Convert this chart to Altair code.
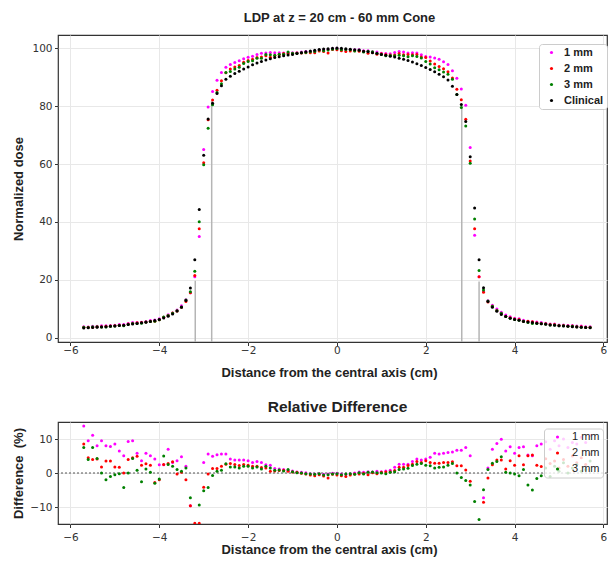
import altair as alt
import pandas as pd

FONT = "Liberation Sans"
TICKFONT = "DejaVu Sans"

# ---------------- data ----------------
x_cm = [-5.7, -5.6, -5.5, -5.4, -5.3, -5.2, -5.1, -5.0, -4.9, -4.8,
        -4.7, -4.6, -4.5, -4.4, -4.3, -4.2, -4.1, -4.0, -3.9, -3.8,
        -3.7, -3.6, -3.5, -3.4, -3.3, -3.2, -3.1, -3.0, -2.9, -2.8,
        -2.7, -2.6, -2.5, -2.4, -2.3, -2.2, -2.1, -2.0, -1.9, -1.8,
        -1.7, -1.6, -1.5, -1.4, -1.3, -1.2, -1.1, -1.0, -0.9, -0.8,
        -0.7, -0.6, -0.5, -0.4, -0.3, -0.2, -0.1,
        0.0,
        0.1, 0.2, 0.3, 0.4, 0.5, 0.6, 0.7, 0.8, 0.9, 1.0,
        1.1, 1.2, 1.3, 1.4, 1.5, 1.6, 1.7, 1.8, 1.9, 2.0,
        2.1, 2.2, 2.3, 2.4, 2.5, 2.6, 2.7, 2.8, 2.9, 3.0,
        3.1, 3.2, 3.3, 3.4, 3.5, 3.6, 3.7, 3.8, 3.9, 4.0,
        4.1, 4.2, 4.3, 4.4, 4.5, 4.6, 4.7, 4.8, 4.9, 5.0,
        5.1, 5.2, 5.3, 5.4, 5.5, 5.6, 5.7]

dose_clinical = [3.4, 3.5, 3.6, 3.7, 3.8, 3.9, 4.0, 4.1, 4.3, 4.4,
                 4.6, 4.8, 5.0, 5.2, 5.4, 5.7, 6.0, 6.4, 6.9, 7.5,
                 8.3, 9.3, 10.6, 12.9, 17.2, 27.0, 44.3, 63.0, 75.5, 81.0,
                 84.3, 87.0, 89.2, 90.3, 91.2, 92.0, 92.8, 93.5, 94.2, 94.8,
                 95.4, 95.9, 96.3, 96.7, 97.0, 97.3, 97.6, 97.8, 98.1, 98.4,
                 98.7, 99.0, 99.2, 99.5, 99.7, 99.8, 99.9,
                 100.0,
                 99.9, 99.8, 99.6, 99.4, 99.2, 98.9, 98.7, 98.4, 98.1, 97.8,
                 97.5, 97.2, 96.9, 96.5, 96.1, 95.7, 95.2, 94.6, 94.0, 93.3,
                 92.6, 91.8, 91.0, 90.1, 89.0, 86.8, 84.0, 80.5, 74.7, 62.5,
                 44.8, 27.0, 17.3, 12.6, 10.6, 9.2, 8.1, 7.4, 6.8, 6.4,
                 6.1, 5.7, 5.5, 5.3, 5.1, 4.9, 4.7, 4.5, 4.4, 4.2,
                 4.1, 4.0, 3.9, 3.8, 3.7, 3.6, 3.5]

dose_1mm = [3.9, 3.8, 4.0, 4.0, 4.2, 4.2, 4.3, 4.4, 4.6, 4.6,
            5.0, 5.3, 5.3, 5.4, 5.7, 6.0, 6.2, 6.6, 7.1, 8.0,
            8.6, 9.6, 11.1, 13.2, 15.6, 21.1, 35.0, 65.0, 79.7, 85.0,
            88.9, 91.6, 93.4, 94.3, 95.0, 95.6, 96.3, 96.8, 97.2, 97.8,
            98.2, 98.3, 98.5, 98.4, 98.4, 98.3, 98.4, 98.4, 98.4, 98.6,
            98.8, 98.8, 98.9, 99.3, 99.3, 99.5, 99.8,
            99.9,
            99.6, 99.4, 99.4, 99.4, 99.5, 99.1, 99.1, 98.7, 98.6, 98.2,
            98.1, 98.0, 98.5, 98.8, 98.6, 98.3, 98.4, 98.3, 97.7, 97.1,
            96.9, 96.6, 96.1, 95.3, 94.3, 92.2, 89.6, 85.9, 80.3, 65.7,
            35.4, 21.1, 16.0, 12.8, 11.3, 10.0, 8.9, 7.9, 7.3, 6.8,
            6.6, 6.1, 5.8, 5.6, 5.5, 5.3, 5.1, 4.8, 4.8, 4.5,
            4.5, 4.3, 4.3, 4.1, 4.1, 3.9, 3.9]

dose_2mm = [3.7, 3.7, 3.7, 3.9, 3.9, 4.0, 4.1, 4.2, 4.4, 4.4,
            4.8, 5.0, 5.2, 5.3, 5.5, 5.8, 5.8, 6.3, 7.1, 7.7,
            8.6, 9.3, 10.6, 12.6, 15.6, 21.5, 37.7, 60.4, 75.3, 82.1,
            85.4, 88.7, 91.5, 92.8, 93.5, 94.0, 95.1, 95.7, 96.1, 96.7,
            96.9, 97.3, 96.8, 97.3, 97.7, 98.1, 98.1, 98.1, 98.3, 98.3,
            98.4, 98.4, 98.4, 99.0, 98.8, 98.3, 99.5,
            99.4,
            99.1, 98.8, 99.0, 99.1, 98.9, 98.8, 98.2, 98.5, 97.9, 98.0,
            97.8, 97.6, 97.6, 98.1, 97.7, 97.8, 97.7, 97.8, 96.9, 96.7,
            95.5, 94.5, 93.6, 92.9, 91.8, 89.7, 85.8, 82.2, 75.4, 61.0,
            37.7, 21.1, 15.8, 12.4, 10.9, 9.5, 8.4, 7.5, 7.0, 6.5,
            6.4, 5.8, 5.8, 5.6, 5.2, 5.0, 4.9, 4.6, 4.6, 4.3,
            4.3, 4.1, 4.1, 3.9, 3.9, 3.7, 3.7]

dose_3mm = [3.7, 3.6, 3.9, 3.9, 3.8, 3.8, 4.0, 4.1, 4.3, 4.2,
            4.6, 5.0, 5.0, 5.1, 5.5, 5.7, 5.8, 6.3, 7.2, 7.7,
            8.5, 9.4, 10.7, 13.1, 15.9, 23.0, 40.1, 59.7, 72.3, 80.4,
            84.7, 87.7, 91.6, 91.9, 92.8, 93.4, 94.7, 95.4, 95.6, 96.5,
            96.5, 97.8, 97.7, 97.5, 97.9, 97.9, 98.6, 98.2, 98.2, 98.4,
            98.5, 98.7, 98.8, 99.3, 99.1, 99.3, 99.6,
            99.8,
            99.4, 99.5, 99.4, 99.0, 99.3, 98.6, 98.9, 98.7, 98.2, 97.8,
            97.3, 97.4, 97.3, 97.5, 97.3, 97.0, 97.3, 97.1, 96.6, 95.4,
            94.5, 93.2, 92.5, 91.7, 91.0, 89.2, 84.0, 79.5, 73.1, 60.3,
            41.0, 23.3, 16.5, 12.7, 10.9, 9.5, 8.5, 7.4, 6.8, 6.4,
            6.1, 5.8, 5.3, 5.0, 5.0, 4.9, 4.8, 4.5, 4.5, 4.2,
            4.2, 4.0, 4.0, 3.9, 3.7, 3.6, 3.6]

diff_1mm = [13.8, 9.5, 11.1, 8.0, 9.5, 8.0, 7.8, 8.5, 6.5, 5.1,
            9.3, 9.5, 5.8, 3.6, 5.8, 5.1, 4.1, 2.4, 2.4, 7.0,
            3.1, 3.6, 4.8, 2.0, -9.6, -22.0, -21.0, 3.1, 5.6, 4.9,
            5.4, 5.6, 5.6, 4.1, 3.8, 3.8, 3.8, 3.6, 3.1, 3.4,
            3.1, 2.4, 2.3, 1.3, 1.2, 1.0, 0.8, 0.6, 0.3, 0.2,
            0.1, -0.2, -0.3, -0.2, -0.4, -0.3, -0.1,
            -0.1,
            -0.3, -0.4, -0.2, 0.0, 0.3, 0.2, 0.4, 0.3, 0.5, 0.4,
            0.6, 0.8, 1.7, 2.6, 2.6, 2.6, 3.4, 4.1, 3.8, 4.1,
            4.6, 5.8, 5.6, 5.8, 6.0, 6.2, 6.7, 6.7, 7.5, 5.1,
            -21.0, -22.0, -7.3, 1.5, 7.0, 8.7, 9.9, 6.5, 7.7, 5.8,
            7.5, 7.7, 5.3, 5.1, 8.0, 8.5, 9.2, 7.0, 9.5, 8.0,
            10.0, 7.5, 9.0, 8.5, 10.5, 9.0, 11.0]

diff_2mm = [8.5, 4.5, 4.0, 4.1, 1.8, 3.5, 3.5, 1.8, 1.7, 0.0,
            4.0, 4.5, 4.9, 2.3, 2.7, 2.3, -2.8, -2.0, 2.5, 2.8,
            3.3, -0.3, 0.2, -2.0, -9.6, -14.8, -14.8, -4.2, -0.3, 1.3,
            1.3, 2.0, 2.6, 2.8, 2.5, 2.2, 2.5, 2.3, 2.0, 2.0,
            1.6, 1.5, 0.5, 0.6, 0.7, 0.8, 0.5, 0.3, 0.2, -0.1,
            -0.3, -0.6, -0.8, -0.5, -0.9, -1.5, -0.4,
            -0.6,
            -0.8, -1.0, -0.6, -0.3, -0.3, -0.1, -0.5, 0.1, -0.2, 0.2,
            0.3, 0.4, 0.7, 1.7, 1.7, 2.2, 2.6, 3.4, 3.1, 3.6,
            3.1, 2.9, 2.9, 3.1, 3.1, 3.3, 2.1, 2.1, 0.9, -2.4,
            -15.8, -22.0, -8.6, -1.5, 2.4, 3.8, 3.8, 1.2, 3.6, 2.3,
            5.1, 2.4, 5.1, 5.3, 2.3, 1.9, 4.2, 2.8, 3.5, 1.5,
            4.0, 2.0, 5.0, 3.0, 4.5, 2.5, 5.5]

diff_3mm = [7.5, 4.0, 7.5, 4.3, 0.0, -2.0, -1.0, -0.5, -0.2, -4.3,
            0.0, 4.3, 0.8, -2.6, 1.2, 0.2, -3.0, -1.8, 5.0, 2.5,
            2.0, 1.0, 0.5, 1.5, -7.3, -16.0, -9.4, -5.2, -4.3, -0.7,
            0.5, 0.8, 2.7, 1.8, 1.8, 1.5, 2.0, 2.0, 1.5, 1.8,
            1.2, 2.0, 1.5, 0.8, 0.9, 0.6, 1.0, 0.4, 0.1, 0.0,
            -0.2, -0.3, -0.4, -0.2, -0.6, -0.5, -0.3,
            -0.2,
            -0.5, -0.3, -0.2, -0.4, 0.1, -0.3, 0.2, 0.3, 0.1, 0.0,
            -0.2, 0.2, 0.4, 1.0, 1.2, 1.4, 2.2, 2.6, 2.8, 2.3,
            2.1, 1.5, 1.7, 1.8, 2.3, 2.8, 0.0, -1.3, -2.2, -3.5,
            -8.4, -13.7, -4.9, 1.0, 2.9, 3.4, 4.8, 0.2, 0.0, -0.3,
            -0.8, 1.0, -3.5, -5.0, -1.6, -0.8, 1.5, -1.0, 2.0, 0.5,
            3.0, 0.0, 1.5, 2.5, 0.5, 1.0, 3.5]

series_names = ["1 mm", "2 mm", "3 mm", "Clinical"]
series_colors = ["#ff00ff", "#ff0000", "#008000", "#000000"]

edge_x = [-3.19, -2.82, 2.81, 3.2]
edge_top = [19.7, 81.7, 80.3, 19.5]

x_ticks = [-6, -4, -2, 0, 2, 4, 6]
dose_ticks = [0, 20, 40, 60, 80, 100]
diff_ticks = [-10, 0, 10]

# ---------------- tables ----------------
rows = []
for name, vals in zip(series_names, [dose_1mm, dose_2mm, dose_3mm, dose_clinical]):
    for xv, yv in zip(x_cm, vals):
        rows.append({"x": xv, "v": yv, "series": name, "k": len(rows)})
top_df = pd.DataFrame(rows)

rows = []
for name, vals in zip(series_names[:3], [diff_1mm, diff_2mm, diff_3mm]):
    for xv, yv in zip(x_cm, vals):
        rows.append({"x": xv, "v": yv, "series": name, "k": len(rows)})
bot_df = pd.DataFrame(rows)

edge_df = pd.DataFrame({"x": edge_x, "top": edge_top})
zero_df = pd.DataFrame({"z": [0]})

# ---------------- layout ----------------
W = 549
TOP_H = 307
BOT_H = 102

xscale = alt.Scale(domain=[-6.28, 6.08], nice=False, zero=False)
x_title = "Distance from the central axis (cm)"


def x_axis(label_pad, title_pad):
    return alt.Axis(values=x_ticks, title=x_title, titlePadding=title_pad,
                    labelPadding=label_pad, titleFontSize=13, titleX=271)


def y_axis(values, title):
    return alt.Axis(values=values, title=title, minExtent=28, maxExtent=28,
                    titlePadding=5, labelPadding=2.5)


top_y = alt.Scale(domain=[-1.4, 104.5], nice=False, zero=False)
bot_y = alt.Scale(domain=[-15, 15], nice=False, zero=False)

rules = alt.Chart(edge_df).mark_rule(color="#b5b5b5", strokeWidth=1.5).encode(
    x=alt.X("x:Q", scale=xscale, axis=x_axis(0, 10)),
    y=alt.Y("top:Q", scale=top_y, axis=y_axis(dose_ticks, "Normalized dose")),
    y2=alt.value(TOP_H),
)

top_pts = alt.Chart(top_df).mark_circle(size=9, opacity=1).encode(
    x=alt.X("x:Q", scale=xscale, axis=x_axis(0, 10)),
    y=alt.Y("v:Q", scale=top_y, axis=y_axis(dose_ticks, "Normalized dose")),
    color=alt.Color(
        "series:N",
        scale=alt.Scale(domain=series_names, range=series_colors),
        legend=alt.Legend(
            title=None, orient="none", legendX=481, legendY=9,
            fillColor="#ffffff", strokeColor="#cccccc", cornerRadius=3,
            padding=3, rowPadding=4, labelFont=FONT, labelFontSize=11,
            labelFontWeight="bold", labelColor="#222222",
            symbolType="circle", symbolSize=10, symbolStrokeWidth=0,
            symbolOffset=4, labelOffset=7,
        ),
    ),
    order=alt.Order("k:Q"),
)

top = alt.layer(rules, top_pts).properties(
    width=W, height=TOP_H,
    title=alt.Title("LDP at z = 20 cm - 60 mm Cone", font=FONT, fontSize=13,
                    fontWeight="bold", color="#222222", anchor="middle",
                    frame="group", offset=10, dx=7),
)

zero_line = alt.Chart(zero_df).mark_rule(
    color="#555555", strokeDash=[2, 2], strokeWidth=1).encode(
    y=alt.Y("z:Q", scale=bot_y, axis=y_axis(diff_ticks, "Difference\u00a0 (%)")),
)

bot_pts = alt.Chart(bot_df).mark_circle(size=9, opacity=1, clip=True).encode(
    x=alt.X("x:Q", scale=xscale, axis=x_axis(5, 0)),
    y=alt.Y("v:Q", scale=bot_y, axis=y_axis(diff_ticks, "Difference\u00a0 (%)")),
    color=alt.Color(
        "series:N",
        scale=alt.Scale(domain=series_names[:3], range=series_colors[:3]),
        legend=alt.Legend(
            title=None, orient="none", legendX=486, legendY=6.5,
            fillColor="rgba(255,255,255,0.8)", strokeColor="#cccccc",
            cornerRadius=3, padding=3, rowPadding=4, labelFont=FONT,
            labelFontSize=11, labelColor="#222222",
            symbolType="circle", symbolSize=10, symbolStrokeWidth=0,
            symbolOffset=5, labelOffset=9,
        ),
    ),
    order=alt.Order("k:Q"),
)

bottom = alt.layer(zero_line, bot_pts).properties(
    width=W, height=BOT_H,
    title=alt.Title("Relative Difference", font=FONT, fontSize=15.5,
                    fontWeight="bold", color="#222222", anchor="middle",
                    frame="group", offset=7, dx=5),
)

chart = alt.vconcat(top, bottom, spacing=18).resolve_scale(
    color="independent", y="independent"
).properties(
    padding={"left": 11, "top": 11, "right": 0, "bottom": 0},
    background="#ffffff",
).configure_view(
    stroke="#333333", strokeWidth=1.2,
).configure_axis(
    labelFont=TICKFONT, labelFontSize=10.5, labelColor="#333333",
    titleFont=FONT, titleFontSize=13, titleFontWeight="bold",
    titleColor="#222222", gridColor="#e8e8e8", gridWidth=1,
    tickColor="#333333", tickSize=3.5, domain=False,
)

chart.save("out.html", embed_options={"renderer": "svg", "actions": False})
